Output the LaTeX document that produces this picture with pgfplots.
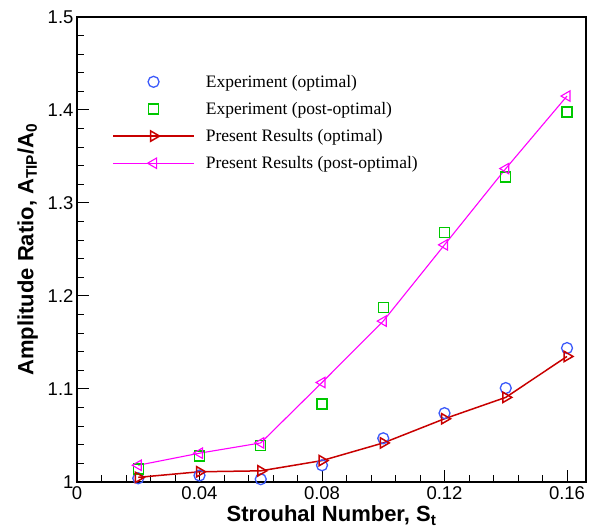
\documentclass[border=0pt]{standalone}
\usepackage{pgfplots}
\pgfplotsset{compat=1.18}
\usepackage{fontspec}
\setmainfont{Liberation Sans}
\newfontfamily\timesfont{Liberation Serif}

\definecolor{expblue}{RGB}{60,90,250}
\definecolor{expgreen}{RGB}{0,200,0}
\definecolor{resred}{RGB}{200,0,0}
\definecolor{resmag}{RGB}{255,0,255}

\begin{document}
\begin{tikzpicture}
\begin{axis}[
    name=ax,
    width=509pt, height=465pt, scale only axis,
    xmin=0, xmax=0.1662, ymin=1, ymax=1.5,
    xtick={0,0.04,0.08,0.12,0.16},
    xticklabels={0,0.04,0.08,0.12,0.16},
    ytick={1,1.1,1.2,1.3,1.4,1.5},
    yticklabels={1,1.1,1.2,1.3,1.4,1.5},
    minor x tick num=4, minor y tick num=4,
    xtick pos=bottom, ytick pos=left,
    tick align=inside,
    major tick length=12pt, minor tick length=7pt,
    every tick/.style={black, line width=1pt},
    axis line style={line width=1.5pt},
    ticklabel style={font=\fontsize{18.5}{20}\selectfont},
    xticklabel style={yshift=-1pt},
    xlabel={\textbf{Strouhal Number, S\textsubscript{t}}},
    ylabel={\textbf{Amplitude Ratio, A\textsubscript{TIP}/A\textsubscript{0}}},
    label style={font=\fontsize{22}{24}\selectfont},
    xlabel style={at={(rel axis cs:0.5,0)}, anchor=base, yshift=-40pt},
    ylabel style={yshift=3pt},
    legend style={at={(rel axis cs:0.069,0.88)}, anchor=north west,
        draw=none, fill=none, font=\timesfont\fontsize{17.5}{20}\selectfont,
        row sep=9.5pt, inner sep=0pt,
        /tikz/every odd column/.append style={column sep=9pt}},
    legend cell align=left,
    legend image code/.code={\draw[mark repeat=2,mark phase=2,#1]
        plot coordinates {(0pt,0pt) (40.5pt,0pt) (81pt,0pt)};},
]
\addplot[only marks, mark=o, mark size=5.5pt, expblue, line width=1.3pt]
    coordinates {(0.02,1.004) (0.04,1.007) (0.06,1.003) (0.08,1.018)
                 (0.10,1.047) (0.12,1.074) (0.14,1.101) (0.16,1.144)};
\addlegendentry{Experiment (optimal)}
\addplot[only marks, mark=square, mark size=5pt, expgreen, line width=1.3pt]
    coordinates {(0.02,1.014) (0.04,1.028) (0.06,1.039) (0.08,1.084)
                 (0.10,1.188) (0.12,1.268) (0.14,1.328) (0.16,1.398)};
\addlegendentry{Experiment (post-optimal)}
\addplot[resred, line width=1.5pt, mark=triangle, mark size=6pt,
         mark options={rotate=-90, solid}]
    coordinates {(0.02,1.005) (0.04,1.011) (0.06,1.012) (0.08,1.023)
                 (0.10,1.042) (0.12,1.068) (0.14,1.091) (0.16,1.135)};
\addlegendentry{Present Results (optimal)}
\addplot[resmag, line width=1.1pt, mark=triangle, mark size=6pt,
         mark options={rotate=90, solid}]
    coordinates {(0.02,1.018) (0.04,1.031) (0.06,1.042) (0.08,1.107)
                 (0.10,1.173) (0.12,1.255) (0.14,1.337) (0.16,1.415)};
\addlegendentry{Present Results (post-optimal)}
\end{axis}
\path ([xshift=-77pt,yshift=-45pt]ax.south west) rectangle ([xshift=14pt,yshift=17pt]ax.north east);
\end{tikzpicture}
\end{document}
